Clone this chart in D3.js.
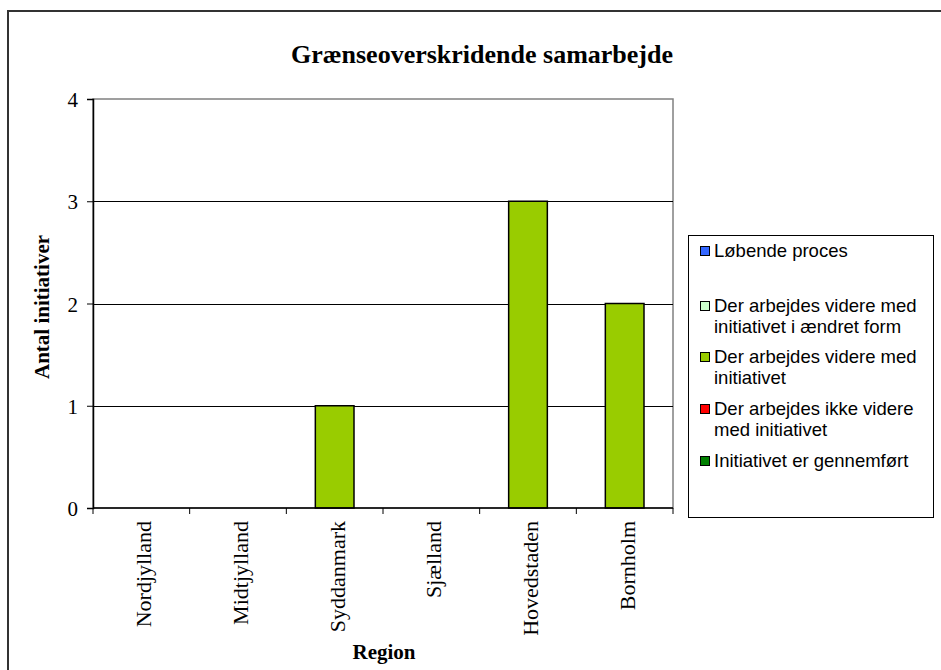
<!DOCTYPE html>
<html>
<head>
<meta charset="utf-8">
<script src="https://cdn.jsdelivr.net/npm/d3@7"></script>
<style>
  body { margin: 0; background: #fff; }
  svg { display: block; }
</style>
</head>
<body>
<div id="chart-area"></div>
<script>
const regions = ["Nordjylland", "Midtjylland", "Syddanmark", "Sjælland", "Hovedstaden", "Bornholm"];
const videreMed = [0, 0, 1, 0, 3, 2];
const yTicks = [0, 1, 2, 3, 4];
const legendNames = [
  "Løbende proces",
  "Der arbejdes videre med initiativet i ændret form",
  "Der arbejdes videre med initiativet",
  "Der arbejdes ikke videre med initiativet",
  "Initiativet er gennemført"
];
const legendLines = [
  ["Løbende proces"],
  ["Der arbejdes videre med", "initiativet i ændret form"],
  ["Der arbejdes videre med", "initiativet"],
  ["Der arbejdes ikke videre", "med initiativet"],
  ["Initiativet er gennemført"]
];
const legendColors = ["#3366ff", "#ccffcc", "#99cc00", "#ff0000", "#008000"];

const W = 941, H = 670;
const PLOT = { LEFT: 93, RIGHT: 673, TOP: 99, BOTTOM: 508 };
const SERIF = "'Liberation Serif', 'Times New Roman', serif";

const svg = d3.select("#chart-area").append("svg")
  .attr("width", W)
  .attr("height", H)

// outer chart frame (runs off the right and bottom edges)
svg.append("rect")
  .attr("x", 8).attr("y", 11)
  .attr("width", W + 20).attr("height", H + 20)
  .attr("fill", "#fff")
  .attr("stroke", "#333")
  .attr("stroke-width", 2)

const x = d3.scaleBand()
  .domain(regions)
  .range([PLOT.LEFT, PLOT.RIGHT])
  .paddingInner(0.6)
  .paddingOuter(0.3)

const xEdge = d3.scaleBand()
  .domain(regions)
  .range([PLOT.LEFT, PLOT.RIGHT])

const y = d3.scaleLinear()
  .domain([0, 4])
  .range([PLOT.BOTTOM, PLOT.TOP])

// plot area border
svg.append("rect")
  .attr("x", PLOT.LEFT).attr("y", PLOT.TOP)
  .attr("width", PLOT.RIGHT - PLOT.LEFT)
  .attr("height", PLOT.BOTTOM - PLOT.TOP)
  .attr("fill", "none")
  .attr("stroke", "#808080")
  .attr("stroke-width", 1.5)

// gridlines
svg.append("g")
  .selectAll("line")
  .data(yTicks.filter(d => d > 0 && d < 4))
  .join("line")
  .attr("x1", PLOT.LEFT).attr("x2", PLOT.RIGHT)
  .attr("y1", d => Math.round(y(d)) + 0.5).attr("y2", d => Math.round(y(d)) + 0.5)
  .attr("stroke", "#000")

// bars
svg.append("g")
  .selectAll("rect")
  .data(regions.map((r, i) => ({ region: r, value: videreMed[i] })).filter(d => d.value > 0))
  .join("rect")
  .attr("x", d => x(d.region))
  .attr("y", d => y(d.value))
  .attr("width", x.bandwidth())
  .attr("height", d => y(0) - y(d.value))
  .attr("fill", "#99cc00")
  .attr("stroke", "#000")
  .attr("stroke-width", 1.5)

// y axis
const yAxisCall = d3.axisLeft(y)
  .tickValues(yTicks)
  .tickSize(6)
  .tickFormat(d3.format("d"))

const yAxis = svg.append("g")
  .attr("transform", `translate(${PLOT.LEFT}, 0)`)
  .call(yAxisCall)
yAxis.select(".domain").attr("stroke", "#000").attr("stroke-width", 1.5)
yAxis.selectAll(".tick line").attr("stroke", "#000")
yAxis.selectAll(".tick text")
  .attr("x", -15)
  .attr("dy", "0.36em")
  .style("font-family", SERIF)
  .style("font-size", "21px")
  .attr("fill", "#000")

// x axis with ticks at category edges
const xAxis = svg.append("g")
  .attr("transform", `translate(0, ${PLOT.BOTTOM})`)
xAxis.append("line")
  .attr("x1", PLOT.LEFT).attr("x2", PLOT.RIGHT)
  .attr("stroke", "#000").attr("stroke-width", 1.5)
xAxis.selectAll(".edge")
  .data(regions.concat(["end"]))
  .join("line")
  .attr("class", "edge")
  .attr("x1", (d, i) => i < regions.length ? xEdge(d) : PLOT.RIGHT)
  .attr("x2", (d, i) => i < regions.length ? xEdge(d) : PLOT.RIGHT)
  .attr("y1", 0).attr("y2", 6)
  .attr("stroke", "#000")
xAxis.selectAll(".lbl")
  .data(regions)
  .join("text")
  .attr("class", "lbl")
  .attr("transform", d => `translate(${xEdge(d) + xEdge.bandwidth() / 2 + 10}, 13) rotate(-90)`)
  .attr("text-anchor", "end")
  .style("font-family", SERIF)
  .style("font-size", "22px")
  .text(d => d)

// title
svg.append("text")
  .attr("x", 482)
  .attr("y", 63)
  .attr("text-anchor", "middle")
  .style("font-family", SERIF)
  .style("font-weight", "bold")
  .style("font-size", "26px")
  .text("Grænseoverskridende samarbejde")

// axis labels
svg.append("text")
  .attr("x", 384)
  .attr("y", 659)
  .attr("text-anchor", "middle")
  .style("font-family", SERIF)
  .style("font-weight", "bold")
  .style("font-size", "21px")
  .text("Region")

svg.append("text")
  .attr("transform", "translate(49, 307) rotate(-90)")
  .attr("text-anchor", "middle")
  .style("font-family", SERIF)
  .style("font-weight", "bold")
  .style("font-size", "21px")
  .text("Antal initiativer")

// legend
const legend = svg.append("g")
legend.append("rect")
  .attr("x", 688.5).attr("y", 235.5)
  .attr("width", 245).attr("height", 282)
  .attr("fill", "#fff")
  .attr("stroke", "#000")

const rowY = [251, 306, 357, 409, 461];
const items = legend.selectAll(".item")
  .data(legendNames)
  .join("g")
  .attr("class", "item")
  .attr("transform", (d, i) => `translate(700, ${rowY[i]})`)

items.append("rect")
  .attr("x", 0.5).attr("y", -4.5)
  .attr("width", 9).attr("height", 9)
  .attr("fill", (d, i) => legendColors[i])
  .attr("stroke", "#000")

items.append("text")
  .style("font-family", "'Liberation Sans', Arial, sans-serif")
  .style("font-size", "18.5px")
  .selectAll("tspan")
  .data((d, i) => legendLines[i])
  .join("tspan")
  .attr("x", 14)
  .attr("y", (d, j) => j * 21)
  .attr("dy", "0.35em")
  .text(d => d)
</script>
</body>
</html>
